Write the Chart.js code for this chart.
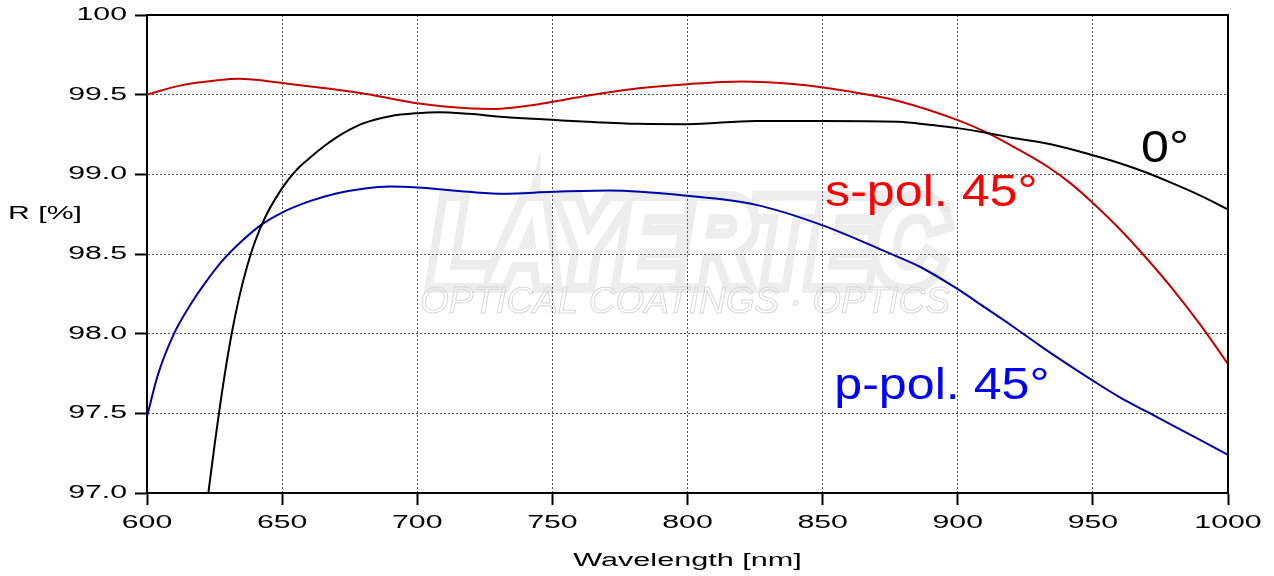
<!DOCTYPE html>
<html>
<head>
<meta charset="utf-8">
<script src="https://cdn.jsdelivr.net/npm/chart.js@4.4.0/dist/chart.umd.min.js"></script>
<style>
  body { margin: 0; background: #fff; }
  #wrap { width: 1274px; height: 576px; position: relative; }
</style>
</head>
<body>
<div id="wrap"><canvas id="chart"></canvas></div>
<script>
// wavelength [nm] / reflectance [%]
const wl0 = [622.7, 625, 628, 631, 634, 637, 640, 644, 648, 652, 656, 660, 665, 670, 675, 680, 690, 700, 708, 719, 732, 750, 765, 782, 800, 825, 850, 878, 890, 900, 911, 920, 934, 950, 960, 970, 980, 990, 1000];
const r0 = [97.0, 97.3, 97.66, 97.97, 98.22, 98.42, 98.58, 98.74, 98.86, 98.96, 99.04, 99.1, 99.17, 99.23, 99.28, 99.32, 99.365, 99.384, 99.39, 99.38, 99.36, 99.342, 99.328, 99.317, 99.315, 99.335, 99.335, 99.33, 99.31, 99.29, 99.26, 99.23, 99.19, 99.12, 99.07, 99.01, 98.94, 98.865, 98.78];

const wlS = [600, 613, 626, 634, 640, 650, 666, 679, 692, 700, 710, 720, 728, 736, 745, 755, 765, 782, 800, 820, 840, 860, 879, 900, 911, 922, 934, 942, 950, 960, 970, 980, 990, 1000];
const rS = [99.5, 99.56, 99.59, 99.6, 99.593, 99.573, 99.54, 99.51, 99.47, 99.446, 99.425, 99.413, 99.41, 99.42, 99.44, 99.47, 99.5, 99.54, 99.566, 99.583, 99.565, 99.52, 99.456, 99.34, 99.26, 99.16, 99.04, 98.94, 98.82, 98.655, 98.47, 98.27, 98.05, 97.81];

const wlP = [600, 604, 610, 616, 622, 628, 635, 642, 650, 660, 670, 680, 690, 700, 719, 732, 750, 771, 800, 825, 850, 874, 886, 899, 910, 920, 930, 940, 950, 960, 970, 980, 990, 1000];
const rP = [97.48, 97.74, 98.0, 98.18, 98.33, 98.46, 98.58, 98.68, 98.76, 98.83, 98.88, 98.91, 98.923, 98.917, 98.89, 98.878, 98.89, 98.898, 98.865, 98.81, 98.68, 98.51, 98.42, 98.29, 98.165, 98.05, 97.93, 97.815, 97.705, 97.6, 97.51, 97.42, 97.33, 97.24];

const xTicks = [600, 650, 700, 750, 800, 850, 900, 950, 1000];
const yTicks = ["97.0", "97.5", "98.0", "98.5", "99.0", "99.5", "100"];

const seriesLabels = ["0°", "s-pol. 45°", "p-pol. 45°"];
const xTitle = "Wavelength [nm]";
const yTitle = "R [%]";

const pts = (xs, ys) => xs.map((x, i) => ({ x: x, y: ys[i] }));
const FONT = "'Liberation Sans', Arial, sans-serif";

// stretched axis texts like the original export
function wideText(ctx, text, x, y, align, sx) {
  ctx.save();
  ctx.translate(x, y);
  ctx.scale(sx, 1);
  ctx.textAlign = align;
  ctx.fillText(text, 0, 0);
  ctx.restore();
}

const watermark = {
  id: "watermark",
  beforeDraw(chart) {
    const ctx = chart.ctx;
    ctx.save();
    ctx.font = "italic bold 118px " + FONT;
    ctx.textBaseline = "alphabetic";
    let w = ctx.measureText("LAYERTEC").width;
    ctx.translate(432, 283);
    ctx.scale(512 / w, 1);
    ctx.lineJoin = "miter";
    ctx.lineWidth = 20;
    ctx.strokeStyle = "#ededed";
    ctx.strokeText("LAYERTEC", 0, 0);
    ctx.fillStyle = "#ffffff";
    ctx.fillText("LAYERTEC", 0, 0);
    ctx.restore();

    ctx.save();
    ctx.font = "italic 36px " + FONT;
    w = ctx.measureText("OPTICAL COATINGS · OPTICS").width;
    ctx.translate(420, 313);
    ctx.scale(530 / w, 1);
    ctx.lineWidth = 1;
    ctx.strokeStyle = "#d9d9d9";
    ctx.strokeText("OPTICAL COATINGS · OPTICS", 0, 0);
    ctx.restore();

    ctx.save();
    ctx.font = "16px " + FONT;
    ctx.fillStyle = "#e0e0e0";
    ctx.fillText("®", 942, 212);
    ctx.restore();
  }
};

const frameAndText = {
  id: "frameAndText",
  afterDraw(chart) {
    const ctx = chart.ctx;
    const a = chart.chartArea;
    const xs = chart.scales.x;
    const ys = chart.scales.y;

    ctx.save();
    ctx.strokeStyle = "#000";
    ctx.lineWidth = 2;
    ctx.beginPath();
    ctx.moveTo(a.left, a.top);
    ctx.lineTo(a.right, a.top);
    ctx.lineTo(a.right, a.bottom);
    ctx.stroke();

    ctx.fillStyle = "#000";
    ctx.font = "18px " + FONT;
    ctx.textBaseline = "middle";
    xs.ticks.forEach((t, i) => {
      wideText(ctx, String(xTicks[i]), xs.getPixelForValue(t.value), 523, "center", 1.68);
    });
    ys.ticks.forEach((t, i) => {
      wideText(ctx, yTicks[i], 127, ys.getPixelForValue(t.value), "right", 1.68);
    });
    wideText(ctx, yTitle, 8, 214, "left", 1.68);
    wideText(ctx, xTitle, (a.left + a.right) / 2, 561, "center", 1.7);

    ctx.font = "44px " + FONT;
    ctx.textBaseline = "alphabetic";
    const spots = [[967.8, 99.08, "#000000"], [850.9, 98.8, "#ff0000"], [854.3, 97.59, "#0000ff"]];
    spots.forEach((s, i) => {
      ctx.fillStyle = s[2];
      wideText(ctx, seriesLabels[i], xs.getPixelForValue(s[0]), ys.getPixelForValue(s[1]), "left", 1.14);
    });
    ctx.restore();
  }
};

const lineSet = (label, data, color) => ({
  label: label,
  data: data,
  borderColor: color,
  borderWidth: 2,
  pointRadius: 0,
  fill: false,
  cubicInterpolationMode: "monotone"
});

new Chart(document.getElementById("chart"), {
  type: "line",
  data: {
    datasets: [
      lineSet(seriesLabels[0], pts(wl0, r0), "#000000"),
      lineSet(seriesLabels[1], pts(wlS, rS), "#c40000"),
      lineSet(seriesLabels[2], pts(wlP, rP), "#0000a8")
    ]
  },
  options: {
    responsive: true,
    maintainAspectRatio: false,
    animation: false,
    layout: { padding: { top: 15, right: 46, left: 0, bottom: 0 } },
    plugins: { legend: { display: false }, tooltip: { enabled: false } },
    scales: {
      x: {
        type: "linear",
        min: 600,
        max: 1000,
        ticks: { stepSize: 50, display: false },
        grid: { color: "#555", lineWidth: 1, tickLength: 12, tickWidth: 2, tickColor: "#000" },
        border: { color: "#000", width: 2, dash: [2, 2] },
        afterFit(scale) { scale.height = 83; }
      },
      y: {
        type: "linear",
        min: 97,
        max: 100,
        ticks: { stepSize: 0.5, display: false },
        grid: { color: "#555", lineWidth: 1, tickLength: 12, tickWidth: 2, tickColor: "#000" },
        border: { color: "#000", width: 2, dash: [2, 2] },
        afterFit(scale) { scale.width = 147; }
      }
    }
  },
  plugins: [watermark, frameAndText]
});
</script>
</body>
</html>
